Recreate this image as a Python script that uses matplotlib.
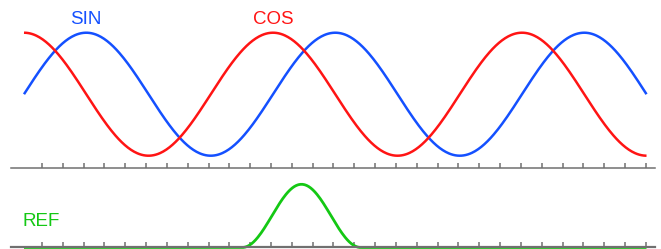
import numpy as np
import matplotlib

matplotlib.use("Agg")
import matplotlib.pyplot as plt

plt.rcParams["font.family"] = ["Liberation Sans", "DejaVu Sans"]

# x runs over two and a half periods, in radians
t = np.linspace(0, 5 * np.pi, 600)
sin_values = np.sin(t)
cos_values = np.cos(t)

# REF pulse: a single raised-cosine bump
ref_start = 5.5
ref_end = 8.5
ref_peak = 1.0

series_labels = ["SIN", "COS", "REF"]

BLUE = "#1450ff"
RED = "#ff1414"
GREEN = "#14c814"
GREY = "#707070"

XLIM = (-0.328, 15.922)
tick_pos = 0.454 + np.arange(30) * 0.5254

fig = plt.figure(figsize=(6.61, 2.49), dpi=100)
fig.patch.set_facecolor("white")


def style_axis(ax):
    for side in ("top", "left", "right"):
        ax.spines[side].set_visible(False)
    ax.spines["bottom"].set_color(GREY)
    ax.spines["bottom"].set_linewidth(1.1)
    ax.set_xlim(*XLIM)
    ax.set_xticks(tick_pos)
    ax.set_yticks([])
    ax.tick_params(axis="x", direction="in", length=3.8, width=1.1,
                   color=GREY, labelbottom=False)
    ax.patch.set_alpha(0)


# --- top panel: sin and cos ---
ax1 = fig.add_axes([11 / 661, 81 / 249, 644 / 661, 168 / 249])
style_axis(ax1)
ax1.set_ylim(-1.2, 1.532)
ax1.plot(t, sin_values, color=BLUE, lw=1.8, solid_capstyle="butt", clip_on=False)
ax1.plot(t, cos_values, color=RED, lw=1.8, solid_capstyle="butt", clip_on=False)
ax1.text(np.pi / 2, 1.21, series_labels[0], color=BLUE, fontsize=13.5,
         ha="center", va="center")
ax1.text(2 * np.pi, 1.21, series_labels[1], color=RED, fontsize=13.5,
         ha="center", va="center")

# --- bottom panel: reference pulse ---
ax2 = fig.add_axes([11 / 661, 0, 644 / 661, 74 / 249])
style_axis(ax2)
ax2.set_ylim(-0.024, 1.147)
ax2.spines["bottom"].set_position(("data", 0))
ax2.spines["bottom"].set_linewidth(1.6)

inside = (t >= ref_start) & (t <= ref_end)
ref_values = np.zeros_like(t)
ref_values[inside] = ref_peak * np.hanning(inside.sum())
ax2.plot(t, ref_values, color=GREEN, lw=2.0, solid_capstyle="butt", clip_on=False)
ax2.text(-0.03, 0.41, series_labels[2], color=GREEN, fontsize=13.5,
         ha="left", va="center")

fig.savefig("out.png", dpi=100, facecolor=fig.get_facecolor())
